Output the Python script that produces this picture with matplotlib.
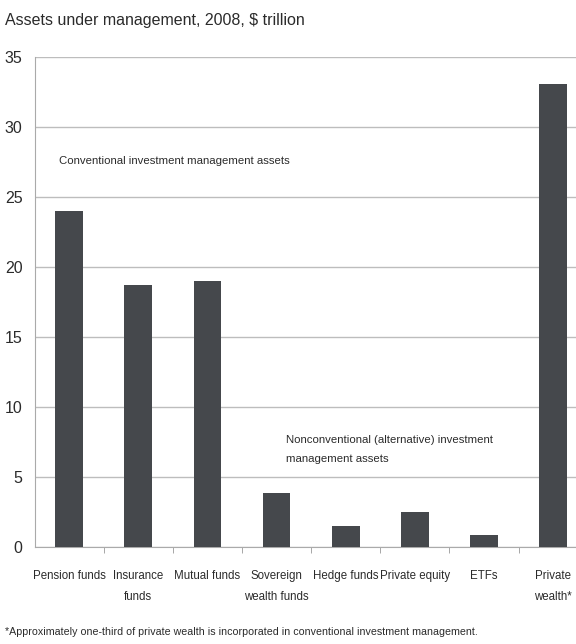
import matplotlib

matplotlib.use("Agg")

import matplotlib.pyplot as plt
import numpy as np

plt.rcParams["font.family"] = ["Liberation Sans", "DejaVu Sans"]

# Assets under management, 2008, $ trillion
categories = [
    "Pension funds",
    "Insurance\nfunds",
    "Mutual funds",
    "Sovereign\nwealth funds",
    "Hedge funds",
    "Private equity",
    "ETFs",
    "Private\nwealth*",
]
assets = [24.0, 18.7, 19.0, 3.9, 1.5, 2.5, 0.9, 33.1]
y_ticks = [0, 5, 10, 15, 20, 25, 30, 35]

bar_color = "#45484c"
grid_color = "#bdbdbd"
text_color = "#2b2b2b"

fig = plt.figure(figsize=(5.76, 6.44), dpi=100)
ax = fig.add_axes([0.061, 0.150, 0.939, 0.7615])

x = np.arange(len(categories))
ax.bar(x, assets, width=0.4, color=bar_color, zorder=3)

ax.set_ylim(0, 35)
ax.set_xlim(-0.49, 7.33)
ax.set_yticks(y_ticks)
ax.set_yticklabels([str(v) for v in y_ticks], fontsize=11.5, color=text_color)
ax.tick_params(axis="y", length=0, pad=9)
ax.yaxis.grid(True, color=grid_color, linewidth=1.0, zorder=0)

# category labels centered under bars, tick marks between categories
ax.set_xticks(x)
ax.set_xticklabels(categories, fontsize=8.3, color=text_color, linespacing=2.0)
ax.tick_params(axis="x", which="major", length=0, pad=16.5)
ax.set_xticks(x[:-1] + 0.5, minor=True)
ax.tick_params(axis="x", which="minor", length=4, color="#999999", direction="out")

for side in ["top", "right"]:
    ax.spines[side].set_visible(False)
ax.spines["left"].set_color("#aaaaaa")
ax.spines["bottom"].set_color("#aaaaaa")

ax.text(-0.14, 27.6, "Conventional investment management assets",
        fontsize=8.2, color=text_color, ha="left", va="center")
ax.text(3.14, 7.0, "Nonconventional (alternative) investment\nmanagement assets",
        fontsize=8.2, color=text_color, ha="left", va="center", linespacing=2.1)

fig.text(0.008, 0.968, "Assets under management, 2008, $ trillion",
         fontsize=11.5, color=text_color, ha="left", va="center")
fig.text(0.008, 0.0186,
         "*Approximately one-third of private wealth is incorporated in conventional investment management.",
         fontsize=7.7, color=text_color, ha="left", va="center")

fig.savefig("out.png", dpi=100)
plt.close(fig)
